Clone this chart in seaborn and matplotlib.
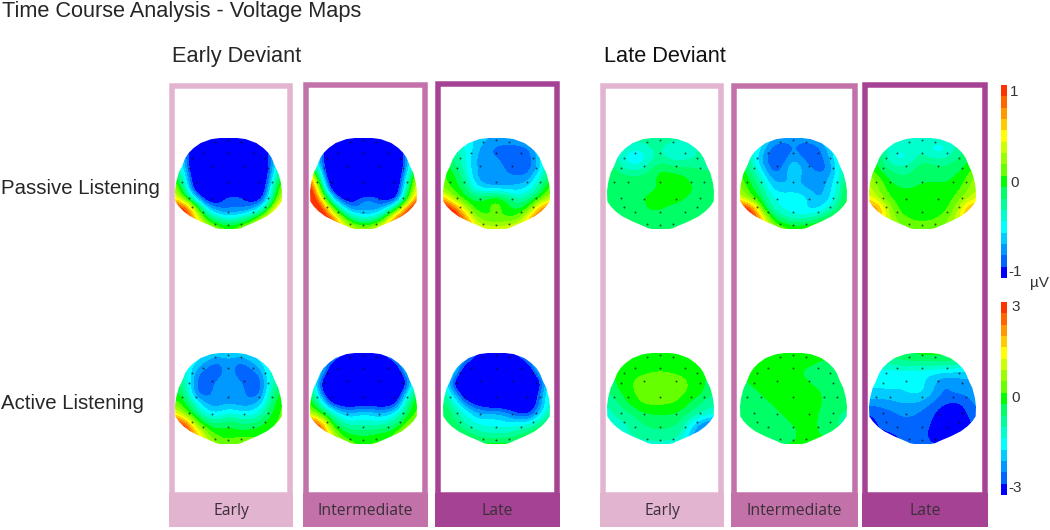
import numpy as np
import matplotlib
matplotlib.use("Agg")
import matplotlib.pyplot as plt
from matplotlib.colors import ListedColormap, BoundaryNorm
from matplotlib.patches import Polygon, Rectangle
import pandas as pd
import seaborn as sns

sns.set_theme(style="white")
plt.rcParams['font.family'] = ['Liberation Sans', 'DejaVu Sans']

W, H = 1050, 530

# Voltage values in uV, rows run front (top) to back (bottom) of the scalp
passive_early_dev_early = [
    [-.7, -.7, -.9, -1.1, -1.1, -1.1, -1.1, -1.1, -.9, -.7, -.7],
    [-.5, -.7, -1.2, -1.3, -1.3, -1.3, -1.3, -1.3, -1.2, -.7, -.5],
    [-.3, -.7, -1.3, -1.3, -1.3, -1.3, -1.3, -1.3, -1.3, -.7, -.3],
    [-.1, -.65, -1.3, -1.3, -1.3, -1.3, -1.3, -1.3, -1.3, -.75, -.1],
    [.1, -.45, -1.25, -1.3, -1.3, -1.3, -1.3, -1.3, -1.3, -.6, .1],
    [.3, -.3, -1.15, -1.3, -1.3, -1.3, -1.3, -1.3, -1.25, -.4, .3],
    [.5, .1, -.5, -1.1, -1, -.7, -.7, -1, -1, -.3, .4],
    [1.2, 1, .2, -.5, -.8, -.85, -.85, -.75, -.5, .2, .9],
    [1.2, 1.1, .6, 0, -.25, -.4, -.3, -.1, .3, .7, 1],
    [1.2, 1.1, .7, .4, .2, .1, .2, .4, .6, .8, 1],
]
passive_early_dev_inter = [
    [-.7, -.7, -.9, -1.1, -1.1, -1.1, -1.1, -1.1, -.9, -.7, -.7],
    [-.5, -.7, -1.2, -1.3, -1.3, -1.3, -1.3, -1.3, -1.2, -.7, -.5],
    [-.3, -.7, -1.3, -1.3, -1.3, -1.3, -1.3, -1.3, -1.3, -.7, -.3],
    [.1, -.6, -1.3, -1.3, -1.3, -1.3, -1.3, -1.3, -1.3, -.7, .1],
    [.9, -.3, -1.25, -1.3, -1.3, -1.3, -1.3, -1.3, -1.25, -.5, .4],
    [1.2, .1, -1.05, -1.3, -1.3, -1.3, -1.3, -1.3, -1.2, -.3, .5],
    [1.3, .6, -.4, -1, -1, -.7, -.7, -1, -1, -.1, .8],
    [1.3, 1.1, .3, -.4, -.8, -.7, -.8, -.6, -.1, .8, 1.3],
    [1.3, 1.2, 1, .3, -.2, -.4, -.3, .1, .9, 1.2, 1.3],
    [1.2, 1.2, 1, .6, .4, .3, .4, .7, 1, 1.2, 1.2],
]
passive_early_dev_late = [
    [-.4, -.4, -.45, -.55, -.6, -.7, -.7, -.6, -.5, -.4, -.4],
    [-.3, -.3, -.4, -.55, -.75, -.8, -.8, -.85, -.8, -.5, -.3],
    [-.1, -.15, -.35, -.65, -.75, -.75, -.8, -.88, -.85, -.6, -.2],
    [.05, -.1, -.35, -.65, -.7, -.75, -.75, -.85, -.85, -.6, -.1],
    [.1, 0, -.2, -.65, -.75, -.8, -.75, -.75, -.7, -.4, 0],
    [.15, 0, -.1, -.45, -.6, -.6, -.6, -.6, -.5, -.2, .1],
    [.7, .2, 0, -.1, 0, .1, -.1, -.3, -.2, 0, .35],
    [1.2, 1, .35, 0, 0, .15, 0, -.1, .05, .7, 1],
    [1.2, 1.2, .85, .25, .05, .05, .05, .1, .6, 1, 1],
    [1, 1, .9, .55, .45, .4, .45, .55, .7, .9, .9],
]
passive_late_dev_early = [
    [-.2, -.2, -.2, -.25, -.2, -.2, -.2, -.25, -.2, -.2, -.2],
    [-.2, -.25, -.35, -.4, -.3, -.25, -.45, -.45, -.35, -.25, -.2],
    [-.2, -.3, -.5, -.55, -.35, -.25, -.35, -.35, -.3, -.25, -.2],
    [-.1, -.2, -.35, -.35, -.2, -.05, -.1, -.15, -.15, -.2, -.2],
    [-.05, -.1, -.1, -.1, -.1, 0, 0, 0, -.1, -.1, -.1],
    [-.05, -.1, -.1, -.1, -.1, -.05, 0, .02, -.05, -.1, -.1],
    [-.1, -.1, -.1, -.1, 0, 0, 0, -.05, -.1, -.1, -.1],
    [-.1, -.1, -.1, -.1, -.05, -.05, -.1, -.1, -.1, -.1, -.1],
    [-.2, -.2, -.15, -.1, -.1, -.1, -.1, -.1, -.15, -.2, -.2],
    [-.1, -.1, -.1, -.1, -.1, -.1, -.1, -.1, -.1, -.1, -.1],
]
passive_late_dev_inter = [
    [-.4, -.4, -.5, -.6, -.7, -.7, -.7, -.6, -.5, -.4, -.4],
    [-.3, -.3, -.5, -.85, -.87, -.75, -.87, -.87, -.65, -.4, -.3],
    [-.1, -.3, -.7, -.87, -.85, -.65, -.8, -.85, -.75, -.4, -.2],
    [0, -.2, -.55, -.87, -.75, -.45, -.7, -.8, -.83, -.5, -.2],
    [.15, -.1, -.35, -.7, -.7, -.6, -.7, -.7, -.7, -.45, -.1],
    [.2, 0, -.2, -.55, -.6, -.6, -.65, -.7, -.65, -.4, 0],
    [.4, .1, -.1, -.4, -.45, -.4, -.45, -.65, -.65, -.3, 0],
    [1.2, 1, .1, -.35, -.45, -.5, -.55, -.6, -.4, -.2, .1],
    [1.2, 1.2, .7, 0, -.2, -.35, -.3, -.2, -.05, .1, .2],
    [1, 1, .6, .3, .15, .1, .1, .15, .2, .2, .2],
]
passive_late_dev_late = [
    [-.3, -.3, -.3, -.3, -.3, -.3, -.3, -.3, -.3, -.3, -.3],
    [-.1, -.2, -.35, -.4, -.35, -.3, -.5, -.5, -.3, -.2, -.1],
    [0, -.1, -.4, -.5, -.35, -.25, -.3, -.3, -.2, -.1, 0],
    [.1, -.1, -.2, -.25, -.2, -.05, -.1, -.15, -.1, -.05, .1],
    [.25, .1, -.1, -.15, -.15, -.1, -.1, -.1, -.05, .05, .25],
    [.35, .15, 0, -.05, -.05, 0, 0, 0, 0, .1, .3],
    [.5, .25, .05, 0, 0, 0, 0, 0, .05, .25, .4],
    [.9, .7, .2, 0, 0, 0, 0, 0, .15, .6, .8],
    [.8, .6, .3, .1, .05, .05, .05, .1, .3, .6, .8],
    [.5, .4, .3, .2, .1, .1, .1, .2, .3, .4, .5],
]
active_early_dev_early = [
    [-1, -1.1, -1.3, -1.5, -1.6, -1.7, -1.6, -1.5, -1.3, -1.1, -1],
    [-.9, -1.1, -1.6, -2.1, -2.5, -2, -2.5, -2.1, -1.6, -1.1, -.9],
    [-.6, -1, -2.2, -2.6, -2.6, -2, -2.6, -2.6, -2.2, -1, -.6],
    [-.3, -.8, -2.5, -2.6, -2.1, -1.9, -2.1, -2.6, -2.6, -1, -.3],
    [0, -.5, -2.5, -2.5, -2.05, -2, -2.05, -2.5, -2.5, -.7, 0],
    [.3, 0, -1.2, -2.1, -2.15, -2.1, -2.15, -2.15, -1.8, -.4, .3],
    [1.5, .3, -.4, -1.4, -1.6, -1.1, -1.4, -1.5, -1, -.15, .3],
    [3.3, 2.7, .6, -.3, -.45, -.15, -.45, -.45, -.3, .15, .3],
    [3.6, 3.3, 2, .6, 0, 0, 0, 0, .15, .3, .3],
    [3, 3, 2, 1.2, .6, .3, .6, .6, .3, .3, .3],
]
active_early_dev_inter = [
    [-1.2, -1.2, -1.5, -2.4, -2.7, -2.7, -2.7, -2.4, -1.5, -1.2, -1.2],
    [-.9, -1.2, -2.7, -3.5, -3.8, -3.8, -3.8, -3.5, -2.8, -1.2, -.9],
    [-.6, -1.6, -3.6, -3.9, -3.9, -3.9, -3.9, -3.9, -3.6, -1.9, -.9],
    [-.3, -2.8, -3.9, -3.9, -3.9, -3.9, -3.9, -3.9, -3.9, -3, -.6],
    [0, -2.2, -3.8, -3.9, -3.9, -3.9, -3.9, -3.9, -3.7, -1.6, 0],
    [.3, -.9, -2.8, -3.1, -3.1, -2.9, -3, -3.1, -2.9, -.8, .3],
    [.9, .15, -.7, -1.7, -1.9, -1.5, -1.8, -1.9, -1.3, -.3, .3],
    [3.3, 2.4, 0, -.75, -1.05, -.9, -1.05, -.9, -.6, .15, .9],
    [3.6, 3.3, 1.2, 0, -.15, -.3, -.15, 0, .15, 1.5, 2.7],
    [3, 3, 1.8, .6, .3, .15, .3, .3, .6, 1.8, 2.1],
]
active_early_dev_late = [
    [-1.2, -1.2, -1.5, -2.4, -2.7, -2.7, -2.7, -2.4, -1.5, -1.2, -1.2],
    [-.9, -1.2, -2.4, -3.2, -3.8, -3.8, -3.8, -3.4, -2.6, -1.2, -.9],
    [-.75, -1.5, -3.5, -3.9, -3.9, -3.9, -3.9, -3.9, -3.6, -1.8, -.9],
    [-.9, -2.9, -3.9, -3.9, -3.9, -3.9, -3.9, -3.9, -3.9, -3.1, -1.2],
    [-.6, -1.8, -3.2, -3.9, -3.9, -3.9, -3.9, -3.9, -3.8, -2.4, -.9],
    [-.3, -.9, -2.2, -2.8, -3.1, -3.3, -3.3, -3.5, -3.4, -2.4, -.9],
    [-.15, -.6, -1.05, -1.8, -1.95, -1.8, -2.1, -2.7, -2.9, -1.8, -.6],
    [0, -.3, -.9, -1.2, -1.35, -1.35, -1.5, -1.35, -1.2, -.6, -.15],
    [.3, 0, -.3, -.6, -.9, -.9, -.9, -.6, -.3, 0, .15],
    [.3, .3, .15, 0, 0, 0, 0, 0, .15, .3, .3],
]
active_late_dev_early = [
    [0, 0, 0, 0, .1, .15, .1, 0, 0, 0, 0],
    [-.15, -.15, 0, 0, 0, 0, 0, 0, 0, -.15, -.15],
    [-.3, -.15, .1, .15, .2, .25, .2, .15, .1, -.15, -.3],
    [-.3, -.15, .15, .25, .3, .3, .3, .25, .15, -.15, -.3],
    [-.6, -.3, .1, .25, .65, .4, .3, .25, .1, -.15, -.6],
    [-.9, -.6, -.15, .15, .25, .25, .25, .1, -.3, -.6, -.9],
    [-1.05, -.75, -.6, -.3, -.15, -.15, -.15, -.3, -.6, -.9, -1.05],
    [-1.05, -1.05, -.9, -.6, -.45, -.45, -.45, -.6, -1.5, -2.2, -2.6],
    [-1.2, -1.05, -.9, -.75, -.6, -.6, -.6, -.9, -2, -2.6, -2.6],
    [-1.2, -1.2, -1.05, -1.05, -1.05, -1.05, -1.05, -1.2, -2.1, -2.1, -2.4],
]
active_late_dev_inter = [
    [0, 0, 0, 0, 0, 0, 0, 0, 0, 0, 0],
    [0, 0, 0, 0, 0, 0, 0, -.15, -.3, -.3, -.3],
    [-.15, 0, 0, 0, 0, 0, -.3, -.45, -.3, -.15, -.15],
    [-.3, -.15, 0, 0, 0, 0, 0, -.3, -.3, -.3, -.3],
    [-.45, -.3, -.15, 0, 0, 0, 0, 0, -.3, -.45, -.45],
    [-.45, -.45, -.3, -.15, 0, 0, 0, 0, -.3, -.45, -.45],
    [-.45, -.45, -.45, -.3, -.15, 0, 0, -.15, -.3, -.45, -.6],
    [-.45, -.3, -.15, -.3, -.3, -.15, 0, -.15, -.3, -.6, -.75],
    [-.3, -.15, -.15, -.3, -.3, -.3, 0, -.15, -.3, -.3, -.45],
    [-.3, -.3, -.3, -.3, -.15, -.15, 0, 0, 0, -.15, -.3],
]
active_late_dev_late = [
    [-.3, -.3, -.3, -.3, -.15, 0, 0, 0, -.15, -.3, -.6],
    [-1.05, -.9, -.75, -.6, -.6, -.6, -.6, -.6, -.6, -.9, -1.2],
    [-1.5, -1.5, -1.5, -1.5, -1.5, -1.5, -1.65, -1.65, -1.8, -1.8, -1.8],
    [-1.5, -1.5, -1.5, -1.5, -1.5, -1.5, -1.8, -2.4, -2.1, -2.1, -1.95],
    [-1.65, -1.65, -1.65, -1.65, -1.5, -1.5, -1.95, -2.4, -2.25, -2.25, -1.95],
    [-2.2, -2.2, -2.1, -1.95, -1.95, -2.1, -2.4, -2.55, -2.7, -2.55, -2.25],
    [-2.7, -2.5, -2.4, -2.25, -2.25, -2.4, -2.55, -3, -3.2, -2.7, -2.25],
    [-2.8, -2.6, -2.5, -2.4, -2.4, -2.4, -2.7, -3.2, -3.4, -3, -2.4],
    [-2.8, -2.7, -2.65, -2.5, -2.4, -2.5, -2.85, -3.1, -3.3, -2.85, -2.4],
    [-3, -3, -3.1, -2.7, -2.55, -2.55, -2.6, -2.6, -2.6, -2.4, -2.1],
]

# Electrode positions, as fractions of the map box
electrode_x = [.373, .497, .621, .155, .264, .497, .73, .839, .13, .348, .646, .87,
               .068, .193, .497, .783, .907, .13, .348, .646, .87,
               .155, .264, .497, .73, .839, .373, .497, .621]
electrode_y = [.048, .026, .048, .22, .165, .165, .165, .22, .33, .311, .311, .33,
               .487, .487, .487, .487, .487, .66, .67, .67, .66,
               .758, .813, .813, .813, .758, .941, .952, .941]

# Head outline: distance from the top and half width, fractions of the box
dome_y = [0, .012, .055, .11, .165, .22, .31, .385, .495, .586, .696, .75, .806, .861, .916, .97, .99, 1]
dome_half = [.08, .16, .26, .326, .373, .404, .435, .466, .49, .5, .497, .466, .42, .357, .264, .155, .12, .08]

scale_colors = ['#FF3300', '#FF6600', '#FF9900', '#FFCC00', '#FFFF00', '#CCFF00',
                '#99FF00', '#66FF00', '#00FF00', '#00FF66', '#00FF99', '#00FFCC',
                '#00FFFF', '#00CCFF', '#0099FF', '#0066FF', '#0000FF']
cmap = ListedColormap(scale_colors[::-1])

conditions = ['Early', 'Intermediate', 'Late']
frame_colors = ['#E3B4D0', '#C271A9', '#A64294']

# left, right, top of each frame in pixels
frames = [(169, 293, 83), (303, 428, 82), (435, 560, 81),
          (600, 724, 83), (731, 858, 83), (862, 988, 82)]
map_left = [175, 310, 443, 607, 740, 869]
map_w = 107
rows = [
    (138, 91, 1, [passive_early_dev_early, passive_early_dev_inter, passive_early_dev_late,
                  passive_late_dev_early, passive_late_dev_inter, passive_late_dev_late]),
    (353, 91, 3, [active_early_dev_early, active_early_dev_inter, active_early_dev_late,
                  active_late_dev_early, active_late_dev_inter, active_late_dev_late]),
]


def px_axes(fig, left, top, width, height):
    return fig.add_axes([left / W, 1 - (top + height) / H, width / W, height / H])


fig = plt.figure(figsize=(W / 100, H / 100), dpi=100, facecolor='white')
back = fig.add_axes([0, 0, 1, 1])
back.set_xlim(0, W)
back.set_ylim(H, 0)
back.axis('off')

# frames and condition bands
for i, (x0, x1, top) in enumerate(frames):
    color = frame_colors[i % 3]
    thick = 5.5
    back.add_patch(Rectangle((x0 + thick / 2, top + thick / 2), x1 - x0 - thick, 492 - top,
                             fill=False, ec=color, lw=thick * 0.72))
    back.add_patch(Rectangle((x0, 493), x1 - x0, 34, fc=color, ec='none'))
    back.text((x0 + x1) / 2, 511, conditions[i % 3], ha='center', va='center',
              fontsize=11.3, family='Open Sans', color='#3a3038')

# scalp maps
elec = pd.DataFrame({'x': electrode_x, 'y': electrode_y})
dome_xy = [(.5 - h, y) for y, h in zip(dome_y, dome_half)] + \
          [(.5 + h, y) for y, h in zip(dome_y[::-1], dome_half[::-1])]

for top, height, vmax, grids in rows:
    bounds = np.linspace(-vmax, vmax, len(scale_colors) + 1)
    norm = BoundaryNorm(bounds, cmap.N, clip=True)
    for left, grid in zip(map_left, grids):
        ax = px_axes(fig, left, top, map_w, height)
        im = ax.imshow(np.array(grid), cmap=cmap, norm=norm, aspect='auto',
                       interpolation='bicubic', interpolation_stage='data',
                       extent=(-.05, 1.05, 1 + 1 / 18, -1 / 18))
        dome = Polygon(dome_xy, closed=True, transform=ax.transData, fc='none', ec='none')
        ax.add_patch(dome)
        im.set_clip_path(dome)
        sns.scatterplot(data=elec, x='x', y='y', ax=ax, s=2, color='#101010',
                        linewidth=0, alpha=0.7, legend=False)
        ax.set_xlim(0, 1)
        ax.set_ylim(1, 0)
        ax.axis('off')

# colour scales
for top, vmax in [(85, 1), (302, 3)]:
    ax = px_axes(fig, 1001, top, 5.5, 193)
    bounds = np.linspace(-vmax, vmax, len(scale_colors) + 1)
    steps = pd.DataFrame(((bounds[:-1] + bounds[1:]) / 2)[::-1])
    sns.heatmap(steps, ax=ax, cmap=cmap, norm=BoundaryNorm(bounds, cmap.N), cbar=False,
                xticklabels=False, yticklabels=False)

# text
text_c = '#262626'
back.text(2, 16.5, 'Time Course Analysis - Voltage Maps', fontsize=15.7, va='baseline', color=text_c)
back.text(172, 62, 'Early Deviant', fontsize=15.7, va='baseline', color=text_c)
back.text(604, 62, 'Late Deviant', fontsize=15.7, va='baseline', color='#111111')
back.text(1, 194, 'Passive Listening', fontsize=14.7, va='baseline', color=text_c)
back.text(1, 409, 'Active Listening', fontsize=14.7, va='baseline', color=text_c)
for x, y, label in [(1010, 92, '1'), (1010, 183, '0'), (1008, 272, '-1'),
                    (1011, 307, '3'), (1011, 398, '0'), (1008, 488, '-3')]:
    back.text(x, y, label, fontsize=11, va='center', color='#333333')
back.text(1030, 283, 'µV', fontsize=11, va='center', color='#333333')

fig.savefig('out.png', dpi=100, facecolor='white')
